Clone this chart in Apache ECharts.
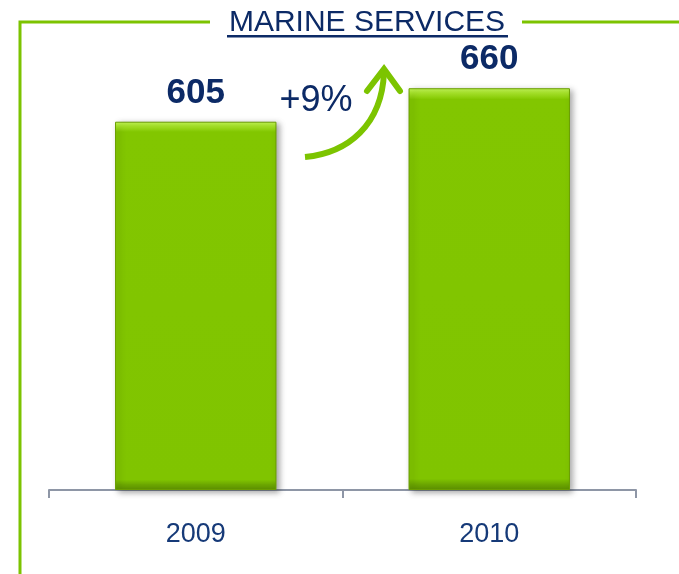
<!DOCTYPE html>
<html>
<head>
<meta charset="utf-8">
<script src="https://cdn.jsdelivr.net/npm/echarts@6/dist/echarts.min.js"></script>
<style>
html,body{margin:0;padding:0;background:#fff;}
#chart{width:679px;height:574px;}
</style>
</head>
<body>
<div id="chart"></div>
<script>
const titleText = 'MARINE SERVICES';
const categories = ['2009', '2010'];
const values = [605, 660];
const growthLabel = '+9%';

const navy = '#0c2a66';
const green = '#7cc300';

const chart = echarts.init(document.getElementById('chart'));

const barGradient = new echarts.graphic.LinearGradient(0, 0, 0, 1, [
  { offset: 0, color: '#c6fa5a' },
  { offset: 0.012, color: '#a8e62a' },
  { offset: 0.028, color: '#82c600' },
  { offset: 0.972, color: '#80c400' },
  { offset: 0.985, color: '#6da800' },
  { offset: 1, color: '#5e9200' }
]);

chart.setOption({
  animation: false,
  backgroundColor: '#ffffff',
  grid: { left: 49, right: 43, top: 3, bottom: 84 },
  xAxis: {
    type: 'category',
    data: categories,
    boundaryGap: true,
    axisLine: { show: true, lineStyle: { color: '#8e96a6', width: 2 } },
    axisTick: { show: true, length: 8, lineStyle: { color: '#8e96a6', width: 2 } },
    axisLabel: {
      margin: 31,
      fontFamily: 'Liberation Sans, Arial, sans-serif',
      fontSize: 27,
      color: '#163a78'
    }
  },
  yAxis: {
    type: 'value',
    min: 0,
    max: 800,
    show: false,
    splitLine: { show: false }
  },
  series: [{
    type: 'bar',
    data: values,
    barWidth: '55%',
    itemStyle: {
      color: barGradient,
      borderColor: '#6a9e00',
      borderWidth: 1,
      shadowColor: 'rgba(0,0,0,0.35)',
      shadowBlur: 6,
      shadowOffsetX: 3,
      shadowOffsetY: 2
    },
    label: {
      show: true,
      position: 'top',
      distance: 11,
      fontFamily: 'Liberation Sans, Arial, sans-serif',
      fontWeight: 'bold',
      fontSize: 35,
      color: navy
    },
    z: 2
  }],
  graphic: [
    { type: 'polyline', shape: { points: [[210, 22], [20, 22], [20, 574]] },
      style: { stroke: green, lineWidth: 3, fill: null }, z: 1 },
    { type: 'line', shape: { x1: 522, y1: 22, x2: 679, y2: 22 },
      style: { stroke: green, lineWidth: 3 }, z: 1 },
    { type: 'text', x: 367, y: 23,
      style: { text: titleText, fill: navy, font: '30px "Liberation Sans", Arial, sans-serif',
               align: 'center', verticalAlign: 'middle' }, z: 5 },
    { type: 'rect', shape: { x: 227, y: 35, width: 281, height: 2.5 },
      style: { fill: navy }, z: 5 },
    { type: 'text', x: 316, y: 101,
      style: { text: growthLabel, fill: navy, font: '36px "Liberation Sans", Arial, sans-serif',
               align: 'center', verticalAlign: 'middle' }, z: 5 },
    { type: 'bezierCurve',
      shape: { x1: 305, y1: 157, cpx1: 348, cpy1: 153, cpx2: 382, cpy2: 125, x2: 384, y2: 72 },
      style: { stroke: '#7cc400', lineWidth: 6, fill: null, lineCap: 'butt' }, z: 5 },
    { type: 'polyline', shape: { points: [[367, 91], [384, 69], [400, 91]] },
      style: { stroke: '#7cc400', lineWidth: 6, fill: null, lineCap: 'round', lineJoin: 'miter' }, z: 5 }
  ]
});
</script>
</body>
</html>
